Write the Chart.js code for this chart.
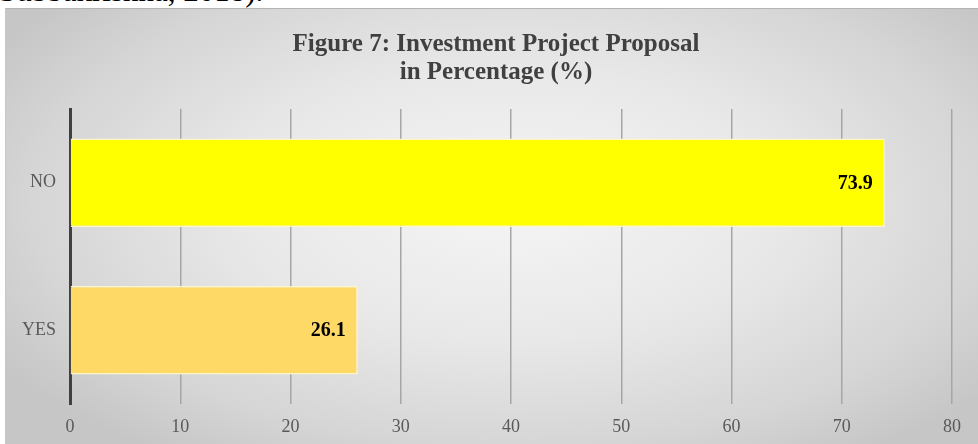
<!DOCTYPE html>
<html>
<head>
<meta charset="utf-8">
<script src="https://cdn.jsdelivr.net/npm/chart.js@4.4.0/dist/chart.umd.min.js"></script>
<style>
  html, body { margin: 0; padding: 0; background: #fff; overflow: hidden; }
  body { width: 978px; height: 444px; position: relative; }
  #caption {
    position: absolute; left: -1px; top: -27px;
    font-family: "Liberation Serif", serif; font-size: 31px; color: #000;
    white-space: nowrap;
  }
  #frame {
    position: absolute; left: 5px; top: 8px; width: 973px; height: 436px;
    border-top: 1px solid #b4b4b4; border-left: 1px solid #c8c8c8;
    box-sizing: border-box;
    background: radial-gradient(ellipse 62% 70% at 52% 45%, #f5f5f5 0%, #e8e8e8 45%, #d5d5d5 80%, #c6c6c6 100%);
  }
  #chart { position: absolute; left: 0; top: 0; }
</style>
</head>
<body>
<div id="caption">Subbakrishna, 2018).</div>
<div id="frame"><canvas id="chart" width="972" height="435"></canvas></div>
<script>
// 資料
const categories = ['NO', 'YES'];
const percentValues = [73.9, 26.1];
const barColors = ['#FFFF00', '#FFD966'];
const xTicks = [0, 10, 20, 30, 40, 50, 60, 70, 80];
const titleLines = ['Figure 7: Investment Project Proposal', 'in Percentage (%)'];

// 標題：置中於 x=490 (不受圖表左右留白影響)
const titleText = {
  id: 'titleText',
  afterDraw(chart) {
    const c = chart.ctx;
    c.save();
    c.font = 'bold 25px "Liberation Serif", serif';
    c.fillStyle = '#404040';
    c.textAlign = 'center';
    c.textBaseline = 'alphabetic';
    titleLines.forEach((line, i) => c.fillText(line, 490, 42 + i * 28));
    c.restore();
  }
};

// 在長條右端內側畫出數值
const valueLabels = {
  id: 'valueLabels',
  afterDatasetsDraw(chart) {
    const c = chart.ctx;
    const meta = chart.getDatasetMeta(0);
    c.save();
    c.font = 'bold 20px "Liberation Serif", serif';
    c.fillStyle = '#000';
    c.textAlign = 'right';
    c.textBaseline = 'middle';
    meta.data.forEach((bar, i) => {
      c.fillText(percentValues[i].toFixed(1), bar.x - 12, bar.y + 1);
    });
    c.restore();
  }
};

const ctx = document.getElementById('chart').getContext('2d');
new Chart(ctx, {
  type: 'bar',
  data: {
    labels: categories,
    datasets: [{
      data: percentValues,
      backgroundColor: barColors,
      borderColor: '#FFF6C8',
      borderWidth: 1.5,
      borderSkipped: 'start',
      categoryPercentage: 1,
      barPercentage: 0.6
    }]
  },
  options: {
    indexAxis: 'y',
    responsive: false,
    animation: false,
    layout: { padding: { left: 0, right: 26, top: 100, bottom: 0 } },
    plugins: {
      legend: { display: false },
      tooltip: { enabled: false },
      title: { display: false }
    },
    scales: {
      x: {
        min: 0,
        max: 80,
        afterBuildTicks(scale) { scale.ticks = xTicks.map(v => ({ value: v })); },
        afterFit(scale) { scale.height = 40; },
        grid: { color: '#a6a6a6', lineWidth: 1.5, drawTicks: false },
        border: { display: false },
        ticks: {
          color: '#595959',
          padding: 12,
          font: { family: '"Liberation Serif", serif', size: 18 }
        }
      },
      y: {
        afterFit(scale) { scale.width = 64; },
        grid: { display: false, drawTicks: false },
        border: { display: true, color: '#404040', width: 3 },
        ticks: {
          color: '#595959',
          padding: 14,
          font: { family: '"Liberation Serif", serif', size: 18 }
        }
      }
    }
  },
  plugins: [valueLabels, titleText]
});
</script>
</body>
</html>
